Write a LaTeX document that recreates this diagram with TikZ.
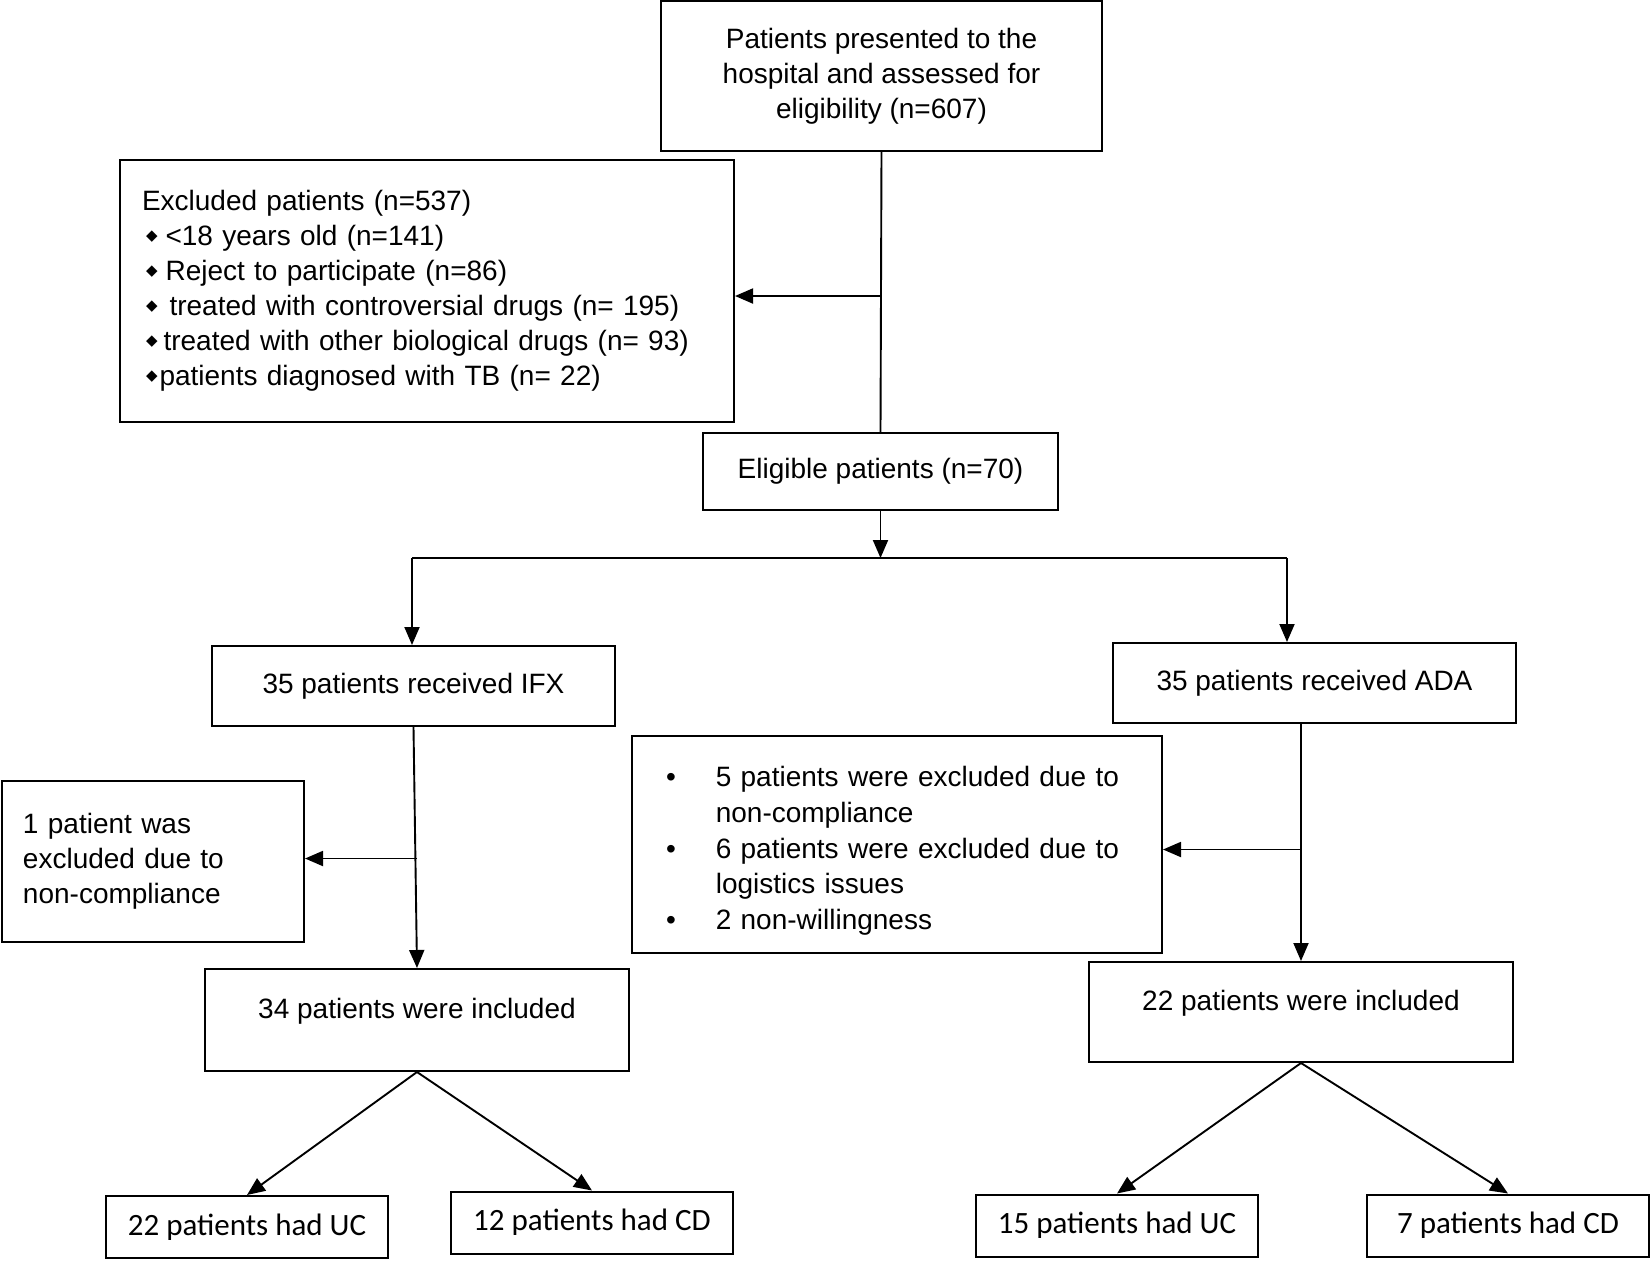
\documentclass[tikz,border=0pt]{standalone}
\usepackage{fontspec}
\usepackage{tikz}
\usetikzlibrary{arrows.meta}
\setmainfont{Liberation Sans}
\newfontfamily\calibri{Carlito}
\newfontfamily\symfont{DejaVu Sans}
\newcommand\dmd{\raisebox{2.6pt}{\symfont\fontsize{7.5}{7.5}\selectfont ◆}}

\begin{document}
\begin{tikzpicture}[x=0.5pt, y=-0.5pt,
  box/.style={draw, line width=1pt, font=\fontsize{14}{17.5}\selectfont, align=center, inner sep=0pt},
  count box/.style={draw, line width=1pt, font=\calibri\fontsize{15.5}{18}\selectfont, inner sep=0pt, minimum width=141pt, minimum height=31pt},
  line/.style={line width=0.95pt},
  link/.style={line width=0.95pt, -{Triangle[length=9pt,width=7.5pt]}}]
  \useasboundingbox (0,0) rectangle (1651,1260);

  % Screening and exclusion
  \node[box, minimum width=220.5pt, minimum height=75pt] (screen) at (881.5,76) {Patients presented to the\\hospital and assessed for\\eligibility (n=607)};
  \node[box, align=left, text width=285pt, inner xsep=11pt, minimum height=131pt] (excl) at (427,291) {Excluded patients (n=537)\\
    \hspace{2pt}\dmd\hspace{4pt}<18 years old (n=141)\\
    \hspace{2pt}\dmd\hspace{4pt}Reject to participate (n=86)\\
    \hspace{2pt}\dmd\hspace{6pt}treated with controversial drugs (n= 195)\\
    \hspace{2pt}\dmd\hspace{3pt}treated with other biological drugs (n= 93)\\
    \hspace{2pt}\dmd\hspace{1pt}patients diagnosed with TB (n= 22)};
  \node[box, minimum width=177.5pt, minimum height=38.5pt] (elig) at (880.5,471.5) {Eligible patients (n=70)};

  % Treatment arms
  \node[box, minimum width=201.5pt, minimum height=40pt] (ifx) at (413.5,686) {35 patients received IFX};
  \node[box, minimum width=201.5pt, minimum height=40pt] (ada) at (1314.5,683) {35 patients received ADA};

  \node[box, align=left, text width=130pt, inner xsep=10.5pt, minimum height=80.5pt] (one) at (153,861.5) {1 patient was\\excluded due to\\non-compliance};
  \node[box, align=left, text width=231pt, inner xsep=17pt, minimum height=108.5pt, font=\fontsize{14}{17.8}\selectfont] (adaex) at (897,844.5) {%
    \begin{tabular}{@{}l@{\hspace{20pt}}l@{}}
      \rule{0pt}{19pt}\textbullet & 5 patients were excluded due to\\
                  & non-compliance\\
      \textbullet & 6 patients were excluded due to\\
                  & logistics issues\\
      \textbullet & 2 non-willingness
    \end{tabular}};

  \node[box, minimum width=212pt, minimum height=51pt, text height=10pt, text depth=12pt] (inc34) at (417,1020) {34 patients were included};
  \node[box, minimum width=212pt, minimum height=50pt, text height=10pt, text depth=12pt] (inc22) at (1301,1012) {22 patients were included};

  % Diagnoses
  \node[count box] (uc1) at (247,1227) {22 patients had UC};
  \node[count box] (cd1) at (592,1222.5) {12 patients had CD};
  \node[count box] (uc2) at (1117,1225.5) {15 patients had UC};
  \node[count box] (cd2) at (1508,1225.5) {7 patients had CD};

  % Connectors
  \draw[line] (screen.south) -- (elig.north);
  \draw[link] ([yshift=-2.5pt]screen.south |- excl.east) -- ([yshift=-2.5pt]excl.east);
  \coordinate (branch) at (880.5,558);
  \coordinate (branch ifx) at (412,558);
  \coordinate (branch ada) at (1287,558);
  \draw[link] (elig.south) -- (branch);
  \draw[line] (branch ifx) -- (branch ada);
  \draw[link] (branch ifx) -- (branch ifx |- ifx.north);
  \draw[link] (branch ada) -- (branch ada |- ada.north);

  \draw[link] (ifx.south) -- (inc34.north);
  \draw[link] ([yshift=1.5pt]inc34.north |- one.east) -- ([yshift=1.5pt]one.east);
  \draw[link] (ada.south -| inc22.north) -- (inc22.north);
  \draw[link] ([yshift=-2.5pt]inc22.north |- adaex.east) -- ([yshift=-2.5pt]adaex.east);

  \draw[link] (inc34.south) -- (uc1.north);
  \draw[link] (inc34.south) -- (cd1.north);
  \draw[link] (inc22.south) -- (uc2.north);
  \draw[link] (inc22.south) -- (cd2.north);
\end{tikzpicture}
\end{document}
